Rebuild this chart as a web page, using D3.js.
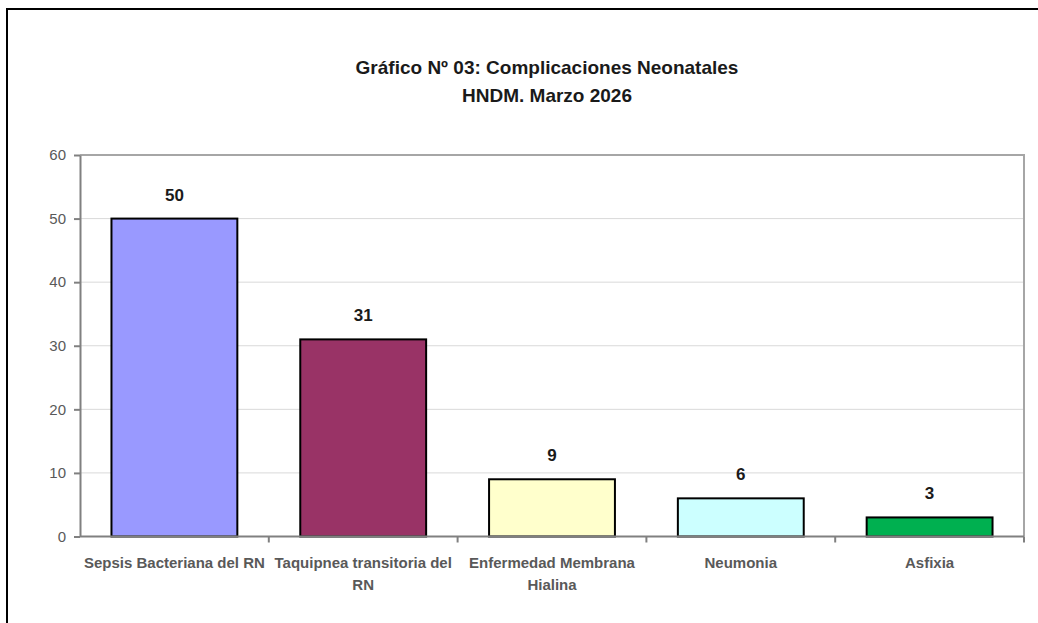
<!DOCTYPE html>
<html>
<head>
<meta charset="utf-8">
<script src="https://cdn.jsdelivr.net/npm/d3@7"></script>
<style>
  body { margin: 0; background: #fff; }
  text { font-family: "Liberation Sans Narrow", "Arial Narrow", sans-serif; }
  .grid line { stroke: #d9d9d9; stroke-width: 1; }
  .axis path, .axis line { stroke: #808080; stroke-width: 2; }
  .axis text { fill: #595959; font-size: 15px; }
</style>
</head>
<body>
<svg id="chart" width="1038" height="623"></svg>
<script>
"use strict";

//Chart data
var categories = ["Sepsis Bacteriana del RN", "Taquipnea transitoria del RN", "Enfermedad Membrana Hialina", "Neumonia", "Asfixia"];
var counts = [50, 31, 9, 6, 3];
var barColors = ["#9999ff", "#993366", "#ffffcc", "#ccffff", "#00b050"];
var yTicks = [0, 10, 20, 30, 40, 50, 60];
var titleLines = ["Gráfico Nº 03: Complicaciones Neonatales", "HNDM. Marzo 2026"];

var svg = d3.select("#chart");

//Outer frame (top and left edges visible)
svg.append("path")
  .attr("d", "M7,623V9H1038")
  .attr("fill", "none")
  .attr("stroke", "#000")
  .attr("stroke-width", 2);

//Title
svg.append("g")
  .selectAll("text")
  .data(titleLines)
  .enter().append("text")
  .attr("x", 547)
  .attr("y", function(d, i) { return 74 + i * 28; })
  .attr("text-anchor", "middle")
  .style("font-size", "19px")
  .style("font-weight", "bold")
  .attr("fill", "#1a1a1a")
  .text(function(d) { return d; });

var margin = {top: 155, left: 80},
    width = 944,
    height = 381.5,
    g = svg.append("g").attr("transform", "translate(" + margin.left + "," + margin.top + ")");

var x = d3.scaleBand().domain(categories).range([0, width]).paddingInner(1/3).paddingOuter(1/6);
var y = d3.scaleLinear().domain([0, 60]).range([height, 0]);

//Gridlines
g.append("g")
  .attr("class", "grid")
  .selectAll("line")
  .data(yTicks.filter(function(t) { return t > 0 && t < 60; }))
  .enter().append("line")
  .attr("x1", 0)
  .attr("x2", width)
  .attr("y1", function(d) { return y(d); })
  .attr("y2", function(d) { return y(d); });

//Plot area top and right edges
g.append("path")
  .attr("d", "M0," + y(60) + "H" + width + "V" + height)
  .attr("fill", "none")
  .attr("stroke", "#a6a6a6")
  .attr("stroke-width", 2);

//Bars
g.selectAll(".bar")
  .data(counts)
  .enter().append("rect")
  .attr("class", "bar")
  .attr("x", function(d, i) { return x(categories[i]); })
  .attr("y", function(d) { return y(d); })
  .attr("width", x.bandwidth())
  .attr("height", function(d) { return height - y(d); })
  .attr("fill", function(d, i) { return barColors[i]; })
  .attr("stroke", "#000")
  .attr("stroke-width", 2);

//Value labels
g.selectAll(".value")
  .data(counts)
  .enter().append("text")
  .attr("class", "value")
  .attr("x", function(d, i) { return x(categories[i]) + x.bandwidth() / 2; })
  .attr("y", function(d) { return y(d) - 18; })
  .attr("text-anchor", "middle")
  .style("font-size", "17px")
  .style("font-weight", "bold")
  .attr("fill", "#1a1a1a")
  .text(function(d) { return d; });

//Y axis
g.append("g")
  .attr("class", "axis axis--y")
  .call(d3.axisLeft(y).tickValues(yTicks).tickSize(6).tickSizeOuter(0).tickPadding(8));

//X axis with separators between categories
var sepScale = d3.scaleLinear().domain([0, categories.length]).range([0, width]);
var xAxis = g.append("g")
  .attr("class", "axis axis--x")
  .attr("transform", "translate(0," + height + ")");
xAxis.append("path").attr("d", "M0,0H" + width);
xAxis.selectAll("line")
  .data(d3.range(1, categories.length + 1))
  .enter().append("line")
  .attr("x1", function(d) { return sepScale(d); })
  .attr("x2", function(d) { return sepScale(d); })
  .attr("y1", 0)
  .attr("y2", 6);

//Category labels, wrapped to the band step
var labels = xAxis.selectAll(".cat")
  .data(categories)
  .enter().append("text")
  .attr("class", "cat")
  .attr("x", function(d) { return x(d) + x.bandwidth() / 2; })
  .attr("y", 31)
  .attr("text-anchor", "middle")
  .style("font-size", "15px")
  .style("font-weight", "bold")
  .attr("fill", "#1a1a1a");

labels.each(function(d) {
  var el = d3.select(this), words = d.split(" "), line = [], lines = [];
  var tmp = el.append("tspan");
  words.forEach(function(w) {
    var test = line.concat([w]).join(" ");
    tmp.text(test);
    if (tmp.node().getComputedTextLength() > x.step() - 4 && line.length) {
      lines.push(line.join(" "));
      line = [w];
    } else {
      line.push(w);
    }
  });
  lines.push(line.join(" "));
  tmp.remove();
  lines.forEach(function(l, i) {
    el.append("tspan")
      .attr("x", x(d) + x.bandwidth() / 2)
      .attr("dy", i ? 22 : 0)
      .text(l);
  });
});
</script>
</body>
</html>
